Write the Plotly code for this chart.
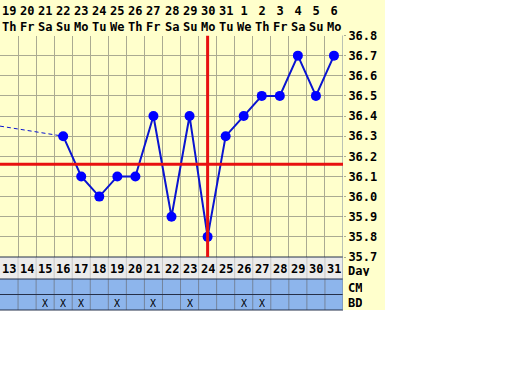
import plotly.graph_objects as go

# ---- data ----
cycle_days = list(range(13, 32))
dates = ["19", "20", "21", "22", "23", "24", "25", "26", "27", "28", "29", "30", "31",
         "1", "2", "3", "4", "5", "6"]
weekdays = ["Th", "Fr", "Sa", "Su", "Mo", "Tu", "We", "Th", "Fr", "Sa", "Su", "Mo",
            "Tu", "We", "Th", "Fr", "Sa", "Su", "Mo"]
temp_days = [16, 17, 18, 19, 20, 21, 22, 23, 24, 25, 26, 27, 28, 29, 30, 31]
temps = [36.3, 36.1, 36.0, 36.1, 36.1, 36.4, 35.9, 36.4, 35.8, 36.3, 36.4, 36.5,
         36.5, 36.7, 36.5, 36.7]
prev_link_days = [12.5, 16]
prev_link_temps = [36.35, 36.3]
coverline = 36.16
ovulation_day = 24
bd_days = [15, 16, 17, 19, 21, 23, 26, 27]
y_ticks = [35.7, 35.8, 35.9, 36.0, 36.1, 36.2, 36.3, 36.4, 36.5, 36.6, 36.7, 36.8]

# ---- layout constants (pixels) ----
W, H = 512, 384
def py(p):
    return (H - p) / H
def px(p):
    return p / W

FONT = "DejaVu Sans Mono"
YELLOW = "#FFFFCC"
GRID = "#ABAB92"
BLUE_ROW = "#8DB5EC"
GRAY_ROW = "#EBEBEB"
DARK = "#25304A"
MID = "#74849C"
RED = "#E81010"
BLUE = "#0A14D0"

fig = go.Figure()

fig.add_trace(go.Scatter(x=prev_link_days, y=prev_link_temps, mode="lines",
                         line=dict(color=BLUE, width=1, dash="4px,3px"),
                         hoverinfo="skip", showlegend=False))
fig.add_trace(go.Scatter(x=temp_days, y=temps, mode="lines+markers",
                         line=dict(color=BLUE, width=2),
                         marker=dict(color="#0000FF", size=10),
                         showlegend=False))

shapes = []
shapes.append(dict(type="rect", xref="paper", yref="paper", x0=0, x1=px(385),
                   y0=py(310), y1=1, fillcolor=YELLOW, line=dict(width=0), layer="below"))
x_lo, x_hi = cycle_days[0] - 0.5, cycle_days[-1] + 0.5
shapes.append(dict(type="rect", xref="x", yref="paper", x0=x_lo, x1=x_hi,
                   y0=py(279), y1=py(257), fillcolor=GRAY_ROW, line=dict(width=0), layer="below"))
shapes.append(dict(type="rect", xref="x", yref="paper", x0=x_lo, x1=x_hi,
                   y0=py(310), y1=py(279), fillcolor=BLUE_ROW, line=dict(width=0), layer="below"))
for d in cycle_days[:-1]:
    shapes.append(dict(type="line", xref="x", yref="paper", x0=d + 0.5, x1=d + 0.5,
                       y0=py(279), y1=py(257), line=dict(color="#C8C8C8", width=1)))
    shapes.append(dict(type="line", xref="x", yref="paper", x0=d + 0.5, x1=d + 0.5,
                       y0=py(310), y1=py(279), line=dict(color=MID, width=1)))
for yy in [257, 279, 294.5, 310]:
    shapes.append(dict(type="line", xref="x", yref="paper", x0=x_lo, x1=x_hi,
                       y0=py(yy), y1=py(yy), line=dict(color=DARK, width=1)))
shapes.append(dict(type="line", xref="x", yref="paper", x0=x_hi, x1=x_hi,
                   y0=py(310), y1=py(35.5), line=dict(color=MID, width=1)))
shapes.append(dict(type="line", xref="x", yref="y", x0=x_lo, x1=x_hi,
                   y0=coverline, y1=coverline, line=dict(color=RED, width=3)))
shapes.append(dict(type="line", xref="x", yref="y", x0=ovulation_day, x1=ovulation_day,
                   y0=y_ticks[0], y1=y_ticks[-1], line=dict(color=RED, width=3)))

ann = []
bold = dict(family=FONT, size=12, color="black", weight="bold")
for d, dt, wd in zip(cycle_days, dates, weekdays):
    ann.append(dict(x=d, y=py(18.75), xref="x", yref="paper", text=f"{dt}<br>{wd}",
                    showarrow=False, font=bold, xanchor="center", yanchor="middle"))
    ann.append(dict(x=d, y=py(268.5), xref="x", yref="paper", text=str(d), showarrow=False,
                    font=bold, xanchor="center", yanchor="middle", height=11))
for d in bd_days:
    ann.append(dict(x=d, y=py(302.5), xref="x", yref="paper", text="X", showarrow=False,
                    font=dict(family=FONT, size=10, color="black"),
                    xanchor="center", yanchor="middle", height=10))
for lbl, yy in [("Day", 270.5), ("CM", 287), ("BD", 302.5)]:
    ann.append(dict(x=px(346), y=py(yy), xref="paper", yref="paper", text=lbl,
                    showarrow=False, font=bold, xanchor="left", yanchor="middle", height=11))

fig.update_layout(
    width=W, height=H, margin=dict(l=0, r=0, t=0, b=0, autoexpand=False),
    autosize=False,
    paper_bgcolor="white", plot_bgcolor=YELLOW,
    shapes=shapes, annotations=ann, showlegend=False,
    xaxis=dict(domain=[0, px(343)], range=[x_lo, x_hi], automargin=False,
               tickvals=[d + 0.5 for d in cycle_days[:-1]], showticklabels=False,
               showgrid=True, gridcolor=GRID, gridwidth=1, zeroline=False, ticks=""),
    yaxis=dict(domain=[py(257), py(35.5)], range=[y_ticks[0], y_ticks[-1]], automargin=False,
               tickvals=y_ticks, ticktext=[f"{v:.1f}" for v in y_ticks], side="right",
               showgrid=True, gridcolor=GRID, gridwidth=1, zeroline=False,
               ticks="outside", ticklen=2, tickcolor=GRID,
               tickfont=bold),
)

fig.write_html("out.html", config={"responsive": False, "displayModeBar": False},
               post_script="document.body.style.margin='0';document.body.style.overflow='hidden';")
